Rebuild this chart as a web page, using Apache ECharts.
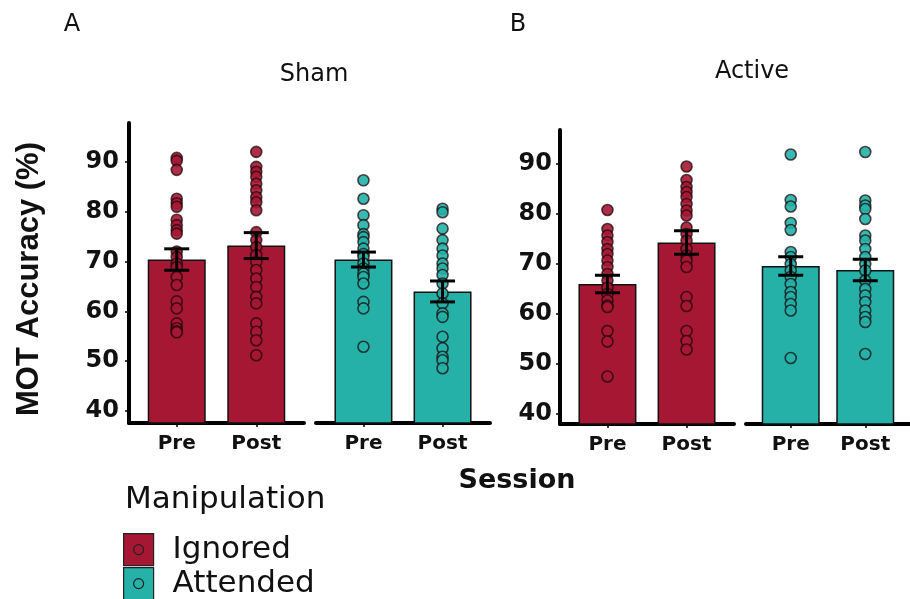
<!DOCTYPE html>
<html>
<head>
<meta charset="utf-8">
<script src="https://cdn.jsdelivr.net/npm/echarts@6/dist/echarts.min.js"></script>
<style>
  html, body { margin: 0; padding: 0; background: #fff; }
  #chart { width: 910px; height: 599px; }
</style>
</head>
<body>
<div id="chart"></div>
<script>
// Categories and tick labels
const sessions = ['Pre', 'Post'];
const manipulations = ['Ignored', 'Attended'];
const stimulations = ['Sham', 'Active'];
const tickValues = [40, 50, 60, 70, 80, 90];

// Individual MOT accuracy (%) per participant
const shamIgnoredPre = [90.8, 90.2, 88.4, 82.6, 81.7, 81.0, 78.4, 77.3, 76.3, 75.6, 72.0, 70.9, 69.6, 68.9, 66.9, 65.3, 62.0, 60.6, 57.6, 56.6, 56.0, 55.8];
const shamIgnoredPost = [92.0, 89.0, 88.0, 87.0, 85.6, 84.3, 82.9, 81.9, 80.3, 75.9, 74.3, 72.9, 71.3, 69.9, 68.3, 66.6, 64.9, 62.9, 61.6, 57.6, 55.9, 54.2, 51.2];
const shamAttendedPre = [86.3, 82.6, 79.3, 77.3, 75.5, 74.9, 73.9, 72.6, 71.5, 70.9, 69.6, 68.6, 67.6, 66.9, 65.6, 61.9, 60.6, 52.9];
const shamAttendedPost = [80.6, 79.9, 76.6, 74.3, 72.6, 71.2, 69.6, 68.6, 67.3, 65.6, 63.6, 61.6, 59.6, 58.9, 54.9, 52.6, 50.9, 50.2, 48.6];
const activeIgnoredPre = [80.7, 76.9, 75.6, 74.3, 72.9, 71.9, 70.6, 69.3, 67.9, 66.6, 65.2, 63.9, 62.6, 61.6, 61.3, 56.5, 54.4, 47.4];
const activeIgnoredPost = [89.4, 86.7, 85.3, 84.3, 83.3, 81.9, 80.6, 79.6, 77.2, 75.9, 74.6, 72.9, 71.6, 70.6, 69.3, 63.3, 61.5, 56.5, 54.5, 52.8];
const activeAttendedPre = [91.8, 82.7, 81.4, 78.1, 76.7, 72.3, 71.3, 69.9, 68.6, 67.3, 65.9, 64.3, 63.3, 61.9, 60.6, 51.1];
const activeAttendedPost = [92.3, 82.6, 81.6, 80.9, 78.9, 75.6, 74.6, 72.9, 71.3, 69.9, 68.6, 66.6, 64.9, 63.6, 62.3, 60.6, 59.3, 58.3, 51.9];

// Group means [Pre, Post] and standard errors
const shamIgnoredMean = [70.4, 73.2];
const shamIgnoredSE = [2.15, 2.6];
const shamAttendedMean = [70.4, 64.0];
const shamAttendedSE = [1.5, 2.1];
const activeIgnoredMean = [65.9, 74.2];
const activeIgnoredSE = [1.75, 2.35];
const activeAttendedMean = [69.5, 68.7];
const activeAttendedSE = [1.85, 2.15];

const COLORS = { Ignored: '#A61733', Attended: '#25B1A7' };
const FONT = 'DejaVu Sans';

// One facet cell per stimulation x manipulation
const cells = [
  { grid: { left: 129, top: 123, width: 175, height: 300 }, yMin: 37.6, yMax: 97.8, showY: true, labelMargin: 10,
    manip: manipulations[0], pre: shamIgnoredPre, post: shamIgnoredPost, mean: shamIgnoredMean, se: shamIgnoredSE },
  { grid: { left: 316, top: 123, width: 174, height: 300 }, yMin: 37.6, yMax: 97.8, showY: false, labelMargin: 10,
    manip: manipulations[1], pre: shamAttendedPre, post: shamAttendedPost, mean: shamAttendedMean, se: shamAttendedSE },
  { grid: { left: 560, top: 130, width: 174, height: 294 }, yMin: 37.9, yMax: 96.7, showY: true, labelMargin: 8,
    manip: manipulations[0], pre: activeIgnoredPre, post: activeIgnoredPost, mean: activeIgnoredMean, se: activeIgnoredSE },
  { grid: { left: 746, top: 130, width: 174, height: 294 }, yMin: 37.9, yMax: 96.7, showY: false, labelMargin: 8,
    manip: manipulations[1], pre: activeAttendedPre, post: activeAttendedPost, mean: activeAttendedMean, se: activeAttendedSE }
];

const sessionPos = sessions.map((s, i) => i + 1);

const grids = [], xAxes = [], yAxes = [], series = [];

cells.forEach((c, i) => {
  grids.push(Object.assign({ containLabel: false }, c.grid));

  xAxes.push({
    type: 'value', gridIndex: i, min: 0.4, max: 2.6,
    axisLine: { show: true, lineStyle: { color: '#000', width: 4 } },
    axisTick: { show: true, customValues: sessionPos, length: 4, lineStyle: { color: '#000', width: 1.5 } },
    axisLabel: {
      show: true, customValues: sessionPos, margin: 11,
      formatter: v => sessions[Math.round(v) - 1] || '',
      color: '#111', fontFamily: FONT, fontWeight: 'bold', fontSize: 20
    },
    splitLine: { show: false }
  });

  yAxes.push({
    type: 'value', gridIndex: i, min: c.yMin, max: c.yMax, show: c.showY,
    name: i === 0 ? 'MOT Accuracy (%)' : '',
    nameLocation: 'middle', nameRotate: 90, nameGap: 84,
    nameTextStyle: { color: '#111', fontFamily: 'Liberation Sans', fontWeight: 'bold', fontSize: 31, padding: [0, 12, 0, 0] },
    axisLine: { show: true, lineStyle: { color: '#000', width: 4 } },
    axisTick: { show: true, customValues: tickValues, length: 4, lineStyle: { color: '#000', width: 1.5 } },
    axisLabel: {
      show: true, customValues: tickValues, margin: c.labelMargin,
      color: '#111', fontFamily: FONT, fontWeight: 'bold', fontSize: 24
    },
    splitLine: { show: false }
  });

  const color = COLORS[c.manip];

  series.push({
    type: 'bar', name: c.manip, xAxisIndex: i, yAxisIndex: i,
    barWidth: 58, z: 2, silent: true,
    data: c.mean.map((m, k) => [sessionPos[k], m]),
    itemStyle: { color: color, borderColor: '#111', borderWidth: 1.5 }
  });

  series.push({
    type: 'scatter', name: c.manip, xAxisIndex: i, yAxisIndex: i,
    symbolSize: 11, z: 3, silent: true,
    data: c.pre.map(v => [sessionPos[0], v]).concat(c.post.map(v => [sessionPos[1], v])),
    itemStyle: { color: color, opacity: 0.9, borderColor: 'rgba(25,5,10,0.8)', borderWidth: 1.6 }
  });

  series.push({
    type: 'custom', xAxisIndex: i, yAxisIndex: i, z: 4, silent: true,
    encode: { x: 0, y: [1, 2] },
    data: c.mean.map((m, k) => [sessionPos[k], m - c.se[k], m + c.se[k]]),
    renderItem: function (params, api) {
      const x = api.value(0);
      const lo = api.coord([x, api.value(1)]);
      const hi = api.coord([x, api.value(2)]);
      const hw = 12.5;
      const style = { stroke: '#000', lineWidth: 3 };
      return {
        type: 'group',
        children: [
          { type: 'line', shape: { x1: hi[0], y1: hi[1], x2: lo[0], y2: lo[1] }, style: style },
          { type: 'line', shape: { x1: hi[0] - hw, y1: hi[1], x2: hi[0] + hw, y2: hi[1] }, style: style },
          { type: 'line', shape: { x1: lo[0] - hw, y1: lo[1], x2: lo[0] + hw, y2: lo[1] }, style: style }
        ]
      };
    }
  });
});

// Legend key: filled square with a point marker inside
const keyIcon = 'path://M0,0H30V32H0Z M15,11A5,5,0,1,1,14.99,11Z';
const legendTops = [533, 567];

const legends = manipulations.map((m, k) => ({
  orient: 'vertical', left: 123, top: legendTops[k], padding: 0,
  itemWidth: 30, itemHeight: 32,
  selectedMode: false,
  textStyle: { color: '#111', fontFamily: FONT, fontSize: 31, lineHeight: 32, padding: [0, 0, 0, 14] },
  data: [{
    name: m, icon: keyIcon,
    itemStyle: { color: COLORS[m], borderColor: '#222', borderWidth: 1.2 }
  }]
}));

function text(str, x, y, size, weight, align) {
  return {
    type: 'text', x: x, y: y, silent: true,
    style: { text: str, fill: '#111', font: (weight || 'normal') + ' ' + size + 'px "' + FONT + '"',
             textAlign: align || 'center', textVerticalAlign: 'middle' }
  };
}

const option = {
  backgroundColor: '#fff',
  animation: false,
  grid: grids,
  xAxis: xAxes,
  yAxis: yAxes,
  series: series,
  legend: legends,
  graphic: [
    text('A', 72, 25, 24),
    text('B', 518, 25, 24),
    text(stimulations[0], 314, 75, 24),
    text(stimulations[1], 752, 72, 24),
    text('Session', 517, 481, 27, 'bold'),
    text('Manipulation', 125, 500, 31, 'normal', 'left')
  ]
};

const chart = echarts.init(document.getElementById('chart'), null, { renderer: 'canvas' });
chart.setOption(option);
</script>
</body>
</html>
